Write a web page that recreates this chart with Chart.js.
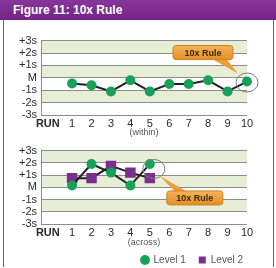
<!DOCTYPE html>
<html>
<head>
<meta charset="utf-8">
<script src="https://cdn.jsdelivr.net/npm/chart.js@4.4.1/dist/chart.umd.min.js"></script>
<style>
    body { margin: 0; width: 276px; height: 268px; overflow: hidden; position: relative; background: #fff; font-family: "Liberation Sans", Arial, sans-serif; }
    #head { position: absolute; left: 0; top: 0; width: 276px; height: 20px; background: linear-gradient(#86369a, #722585); color: #fff; font-weight: bold; font-size: 12px; line-height: 20px; padding-left: 13px; box-sizing: border-box; }
    #frame { position: absolute; left: 3px; top: 20px; width: 269px; height: 247px; border-left: 1px solid #666; border-right: 1px solid #666; }
    canvas { position: absolute; left: 0; }
    #within { top: 30px; }
    #across { top: 140px; }
</style>
</head>
<body>
<div id="head">Figure 11: 10x Rule</div>
<div id="frame"></div>
<canvas id="within" width="276" height="108"></canvas>
<canvas id="across" width="276" height="135"></canvas>
<script>
// x axis: "RUN" caption sits just left of run 1
const runTicks = [-0.25, 1, 2, 3, 4, 5, 6, 7, 8, 9, 10];
const runLabels = ['RUN', '1', '2', '3', '4', '5', '6', '7', '8', '9', '10'];
const sdLabels = ['-3s', '-2s', '-1s', 'M', '+1s', '+2s', '+3s'];

// top panel (within run)
const withinRuns = [1, 2, 3, 4, 5, 6, 7, 8, 9, 10];
const withinLevel1 = [-0.45, -0.6, -1.1, -0.2, -1.1, -0.5, -0.5, -0.2, -1.1, -0.3];

// bottom panel (across runs)
const acrossRuns = [1, 2, 3, 4, 5];
const acrossLevel1 = [0.15, 1.9, 1.2, 0.15, 1.9];
const acrossLevel2 = [0.75, 0.75, 1.75, 1.2, 0.75];

const GREEN = '#17a257';
const PURPLE = '#7a2f8e';
const BAND = '#e7eed5';
const FONT = '"Liberation Sans", Arial, sans-serif';

const pts = (xs, ys) => xs.map((x, i) => ({ x, y: ys[i] }));

// alternating shaded sd bands
const bandPlugin = {
    id: 'bands',
    beforeDraw(chart) {
        const { ctx, chartArea: a, scales: { y } } = chart;
        ctx.save();
        ctx.fillStyle = BAND;
        for (let v = 3; v > -3; v -= 2) {
            const top = y.getPixelForValue(v);
            const bot = y.getPixelForValue(v - 1);
            ctx.fillRect(a.left, top, a.right - a.left, bot - top);
        }
        ctx.restore();
    }
};

// "10x Rule" ring + orange tag
const calloutPlugin = {
    id: 'callout',
    afterDraw(chart, args, opts) {
        if (!opts.run) return;
        const { ctx, scales: { x, y } } = chart;
        const px = x.getPixelForValue(opts.run);
        const py = y.getPixelForValue(opts.value);

        ctx.save();
        ctx.strokeStyle = '#7d7d7d';
        ctx.lineWidth = 1;
        ctx.beginPath();
        ctx.ellipse(px + opts.ring[0], py + opts.ring[1], 11, 9.5, 0, 0, Math.PI * 2);
        ctx.stroke();

        const bx = px + opts.box[0], by = py + opts.box[1], bw = opts.box[2], bh = 14;
        const grad = ctx.createLinearGradient(0, by, 0, by + bh);
        grad.addColorStop(0, '#f4b45a');
        grad.addColorStop(1, '#e48e26');

        // pointer
        const [t0, t1, tx, ty, baseY] = opts.tail;
        ctx.fillStyle = '#ec9e3a';
        ctx.beginPath();
        ctx.moveTo(bx + t0, by + baseY);
        ctx.lineTo(bx + t1, by + baseY);
        ctx.lineTo(px + tx, py + ty);
        ctx.closePath();
        ctx.fill();

        ctx.fillStyle = grad;
        ctx.strokeStyle = '#d0831f';
        ctx.beginPath();
        ctx.roundRect(bx, by, bw, bh, 3);
        ctx.fill();
        ctx.stroke();

        ctx.fillStyle = '#3b2a12';
        ctx.font = 'bold 9px ' + FONT;
        ctx.textAlign = 'center';
        ctx.textBaseline = 'middle';
        ctx.fillText('10x Rule', bx + bw / 2, by + bh / 2 + 0.5);
        ctx.restore();
    }
};

// push legend so its last label ends at the plot's right edge
const legendShift = {
    id: 'legendShift',
    afterLayout(chart) {
        if (chart.legend && chart.options.plugins.legend.display) {
            chart.legend.left += 9;
            chart.legend.right += 9;
        }
    }
};

function makeScales(title) {
    return {
        x: {
            type: 'linear',
            min: -0.6,
            max: 10,
            afterBuildTicks: s => { s.ticks = runTicks.map(v => ({ value: v })); },
            afterFit: s => { s.height = title === '(within)' ? 23 : 18; },
            grid: { display: false, drawTicks: false },
            border: { display: false },
            ticks: {
                autoSkip: false,
                maxRotation: 0,
                minRotation: 0,
                padding: 2,
                color: '#2a2a2a',
                font: c => ({ size: 11, family: FONT, weight: c.tick && c.tick.value < 0 ? 'bold' : 'normal' }),
                callback: v => runLabels[runTicks.indexOf(v)]
            },
            title: {
                display: true,
                text: title,
                color: '#555',
                font: { size: 9, family: FONT },
                padding: { top: 0, bottom: title === '(within)' ? 0 : -6 }
            }
        },
        y: {
            min: -3,
            max: 3,
            afterFit: s => { s.width = 41; },
            grid: { color: '#8c8c8c', lineWidth: 1, drawTicks: false },
            border: { display: true, color: '#8c8c8c' },
            ticks: {
                autoSkip: false,
                stepSize: 1,
                padding: 4,
                color: '#2a2a2a',
                font: { size: 11, family: FONT },
                callback: v => sdLabels[v + 3]
            }
        }
    };
}

const withinChart = new Chart(document.getElementById('within'), {
    type: 'line',
    data: {
        datasets: [{
            label: 'Level 1',
            data: pts(withinRuns, withinLevel1),
            borderColor: '#222',
            borderWidth: 2,
            backgroundColor: GREEN,
            pointBackgroundColor: GREEN,
            pointBorderColor: GREEN,
            pointRadius: 4,
            clip: false
        }]
    },
    options: {
        responsive: false,
        animation: false,
        layout: { padding: { top: 8, right: 29, bottom: 0, left: 0 } },
        scales: makeScales('(within)'),
        plugins: {
            legend: { display: false },
            tooltip: { enabled: false },
            callout: { run: 10, value: -0.3, ring: [0, 1], box: [-74, -36, 60], tail: [40, 54, -9, -8, 14] }
        }
    },
    plugins: [bandPlugin, calloutPlugin]
});

const acrossChart = new Chart(document.getElementById('across'), {
    type: 'line',
    data: {
        datasets: [{
            label: 'Level 1',
            data: pts(acrossRuns, acrossLevel1),
            borderColor: '#222',
            borderWidth: 2,
            backgroundColor: GREEN,
            pointBackgroundColor: GREEN,
            pointBorderColor: GREEN,
            pointStyle: 'circle',
            pointRadius: 4,
            clip: false
        }, {
            label: 'Level 2',
            data: pts(acrossRuns, acrossLevel2),
            borderColor: '#222',
            borderWidth: 2,
            backgroundColor: PURPLE,
            pointBackgroundColor: PURPLE,
            pointBorderColor: PURPLE,
            pointStyle: 'rect',
            pointRadius: 6,
            clip: false
        }]
    },
    options: {
        responsive: false,
        animation: false,
        layout: { padding: { top: 9, right: 29, bottom: 0, left: 0 } },
        scales: makeScales('(across)'),
        plugins: {
            legend: {
                position: 'bottom',
                align: 'end',
                labels: {
                    usePointStyle: true,
                    boxWidth: 7,
                    boxHeight: 7,
                    padding: 13,
                    color: '#555',
                    font: { size: 10, family: FONT },
                    generateLabels: chart => Chart.defaults.plugins.legend.labels.generateLabels(chart).map(l => {
                        l.strokeStyle = l.fillStyle;
                        l.lineWidth = 0;
                        return l;
                    })
                }
            },
            tooltip: { enabled: false },
            callout: { run: 5, value: 1.5, ring: [4, 0], box: [17, 22, 56], tail: [8, 20, 10, 7, 0.5] }
        }
    },
    plugins: [bandPlugin, calloutPlugin, legendShift]
});
</script>
</body>
</html>
